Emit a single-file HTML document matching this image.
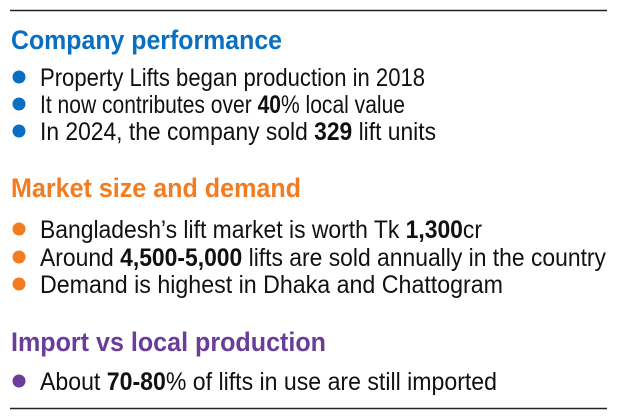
<!DOCTYPE html>
<html><head><meta charset="utf-8"><style>html,body{margin:0;padding:0;background:#fff}svg{display:block}text{font-family:"Liberation Sans",sans-serif}</style></head>
<body>
<svg width="617" height="419" viewBox="0 0 617 419">
<line x1="10" y1="10.5" x2="607" y2="10.5" stroke="#222" stroke-width="1.5"/>
<line x1="10" y1="408.5" x2="607" y2="408.5" stroke="#222" stroke-width="1.5"/>

<text x="11" y="49" font-size="27" font-weight="bold" fill="#0a6fc2" textLength="271" lengthAdjust="spacingAndGlyphs">Company performance</text>
<g fill="#0a6fc2">
<circle cx="19" cy="77" r="6.5"/>
<circle cx="19" cy="104" r="6.5"/>
<circle cx="19" cy="131" r="6.5"/>
</g>
<g font-size="25" fill="#111">
<text x="40" y="86" textLength="385" lengthAdjust="spacingAndGlyphs">Property Lifts began production in 2018</text>
<text x="40" y="113" textLength="365" lengthAdjust="spacingAndGlyphs">It now contributes over <tspan font-weight="bold">40</tspan>% local value</text>
<text x="40" y="140" textLength="396" lengthAdjust="spacingAndGlyphs">In 2024, the company sold <tspan font-weight="bold">329</tspan> lift units</text>
</g>

<text x="11" y="197" font-size="27" font-weight="bold" fill="#f47c20" textLength="290" lengthAdjust="spacingAndGlyphs">Market size and demand</text>
<g fill="#f47c20">
<circle cx="19" cy="229" r="6.5"/>
<circle cx="19" cy="257" r="6.5"/>
<circle cx="19" cy="284" r="6.5"/>
</g>
<g font-size="25" fill="#111">
<text x="40" y="238" textLength="442" lengthAdjust="spacingAndGlyphs">Bangladesh’s lift market is worth Tk <tspan font-weight="bold">1,300</tspan>cr</text>
<text x="40" y="266" textLength="566" lengthAdjust="spacingAndGlyphs">Around <tspan font-weight="bold">4,500-5,000</tspan> lifts are sold annually in the country</text>
<text x="40" y="293" textLength="463" lengthAdjust="spacingAndGlyphs">Demand is highest in Dhaka and Chattogram</text>
</g>

<text x="11" y="351" font-size="27" font-weight="bold" fill="#6a3d9a" textLength="315" lengthAdjust="spacingAndGlyphs">Import vs local production</text>
<circle cx="19" cy="381" r="6.5" fill="#6a3d9a"/>
<text x="40" y="390" font-size="25" fill="#111" textLength="457" lengthAdjust="spacingAndGlyphs">About <tspan font-weight="bold">70-80</tspan>% of lifts in use are still imported</text>
</svg>
</body></html>
